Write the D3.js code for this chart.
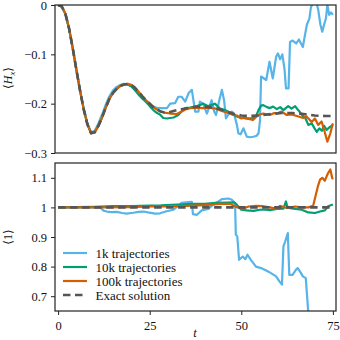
<!DOCTYPE html>
<head>
<meta charset="utf-8">
<style>
  body { margin: 0; background: #fff; }
  svg text { font-family: 'Liberation Serif', 'Times New Roman', Times, 'DejaVu Serif', 'Noto Serif', serif; fill: #111; }
</style>
</head>
<body>
  <svg width="340" height="340"></svg>

  <script src="https://cdn.jsdelivr.net/npm/d3@7"></script>
  <script>
  // ---- data ----
  const xTicks = [0, 25, 50, 75];
  const hxTicks = [0, -0.1, -0.2, -0.3];
  const normTicks = [0.7, 0.8, 0.9, 1, 1.1];
  const seriesNames = ['1k trajectories', '10k trajectories', '100k trajectories', 'Exact solution'];
  const seriesColors = ['#56B4E9', '#009E73', '#D55E00', '#555555'];

  // top panel: <H_x>
  const tExact = [0,1,2,3,4,5,6,7,8,9,10,11,12,13,14,15,16,17,18,19,20,21,22,23,24,25,26,27,28,29,30,32,34,36,38,40,42,44,46,48,50,52,55,58,61,64,67,70,73,75];
  const hxExact = [0,-0.003,-0.018,-0.048,-0.088,-0.132,-0.174,-0.212,-0.242,-0.26,-0.258,-0.245,-0.228,-0.208,-0.19,-0.178,-0.17,-0.164,-0.161,-0.16,-0.162,-0.168,-0.176,-0.185,-0.193,-0.2,-0.207,-0.212,-0.216,-0.218,-0.218,-0.214,-0.211,-0.208,-0.206,-0.206,-0.208,-0.211,-0.216,-0.221,-0.224,-0.225,-0.224,-0.221,-0.219,-0.219,-0.221,-0.224,-0.225,-0.225];

  const t1k = [0,1,2,3,4,5,6,7,8,9,10,11,12,13,14,15,16,17,18,19,20,21,22,23,24,25,26,27,27.8,29.7,30.6,31.9,32.8,33.7,34.7,35.6,36.5,37.4,38.3,38.7,39.6,40.6,41.3,41.9,42.6,43.1,44,44.7,45.3,45.8,46.4,47.4,48,48.8,49.2,49.8,50.6,51.5,52.4,53.3,54.2,54.7,55.1,55.4,56,56.8,57.7,58.6,59.5,60,60.6,61.2,61.8,62.2,62.9,63.3,64,65,65.7,66.3,66.8,67.4,67.9,68.6,69,69.6,70.4,71,71.6,72.1,72.6,73.1,73.5,74,74.5,75];
  const hx1k = [0,-0.003,-0.019,-0.048,-0.088,-0.131,-0.173,-0.21,-0.24,-0.258,-0.255,-0.24,-0.222,-0.202,-0.185,-0.173,-0.166,-0.162,-0.16,-0.161,-0.165,-0.171,-0.178,-0.188,-0.197,-0.203,-0.206,-0.209,-0.209,-0.209,-0.2,-0.199,-0.186,-0.186,-0.196,-0.179,-0.172,-0.216,-0.216,-0.196,-0.2,-0.22,-0.206,-0.193,-0.216,-0.223,-0.193,-0.172,-0.193,-0.23,-0.223,-0.216,-0.22,-0.243,-0.26,-0.262,-0.25,-0.267,-0.268,-0.267,-0.265,-0.26,-0.235,-0.145,-0.148,-0.152,-0.115,-0.149,-0.105,-0.098,-0.11,-0.1,-0.13,-0.169,-0.169,-0.075,-0.072,-0.078,-0.07,-0.078,-0.085,-0.06,-0.04,-0.027,-0.005,0.005,0.01,-0.01,-0.04,-0.054,-0.04,-0.027,0,-0.02,-0.015,-0.02];

  const t10k = [0,1,2,3,4,5,6,7,8,9,10,11,12,13,14,15,16,17,18,19,20,21,22,23,24,25,26,27,27.8,28.7,29.7,30.6,31.5,32.8,33.7,34.7,36,37.9,39.6,41,42.8,44.2,45.5,47.4,48.8,50,51.5,53,54,54.7,55.4,56,57,57.8,58.7,59.7,60.6,61.5,62.3,62.8,63.7,64.7,65.4,66,66.8,67.4,68.3,69.2,70,70.6,71.3,72,72.6,73.3,74.2,75];
  const hx10k = [0,-0.003,-0.018,-0.048,-0.088,-0.132,-0.174,-0.212,-0.242,-0.26,-0.258,-0.245,-0.228,-0.208,-0.19,-0.178,-0.17,-0.164,-0.161,-0.161,-0.165,-0.173,-0.182,-0.19,-0.196,-0.205,-0.213,-0.219,-0.222,-0.229,-0.23,-0.229,-0.228,-0.223,-0.216,-0.209,-0.208,-0.205,-0.2,-0.205,-0.2,-0.21,-0.213,-0.22,-0.226,-0.229,-0.23,-0.229,-0.226,-0.213,-0.204,-0.203,-0.207,-0.209,-0.206,-0.211,-0.207,-0.213,-0.208,-0.205,-0.21,-0.205,-0.212,-0.217,-0.225,-0.228,-0.243,-0.24,-0.25,-0.257,-0.25,-0.255,-0.245,-0.253,-0.247,-0.243];

  const t100k = [0,1,2,3,4,5,6,7,8,9,10,11,12,13,14,15,16,17,18,19,20,21,22,23,24,25,26,27,28,29,30.6,32.4,33.7,35,36,38,39.6,41,43,45.1,46.5,47.8,48.8,50,50.6,51.4,53.2,54.6,56,57,57.8,59,59.7,61,62.4,63.8,65.6,66.9,67.8,69.2,70.1,71,71.9,72.6,73.5,74.3,75];
  const hx100k = [0,-0.003,-0.018,-0.048,-0.088,-0.132,-0.174,-0.212,-0.242,-0.26,-0.258,-0.245,-0.228,-0.208,-0.19,-0.178,-0.17,-0.164,-0.161,-0.16,-0.162,-0.168,-0.176,-0.185,-0.193,-0.2,-0.207,-0.212,-0.216,-0.218,-0.22,-0.221,-0.216,-0.211,-0.209,-0.208,-0.209,-0.208,-0.21,-0.216,-0.219,-0.223,-0.224,-0.23,-0.228,-0.23,-0.233,-0.223,-0.22,-0.222,-0.223,-0.219,-0.22,-0.216,-0.223,-0.222,-0.226,-0.229,-0.226,-0.237,-0.23,-0.243,-0.236,-0.253,-0.277,-0.26,-0.24];

  // bottom panel: <1>
  const tNormExact = [0, 75];
  const normExact = [1, 1];

  const tN1k = [0,5,10,11.5,12.4,13.3,14.5,16,17.5,18.7,20.5,22,23.3,24.5,26.5,27.8,29.6,31.5,32.8,33.7,35,36.5,36.8,37.9,39.2,41,42.4,43.8,44.7,46.5,47.4,48.3,48.5,48.9,49.4,50.4,51.1,51.7,52.6,54,55.4,57.2,58.1,59.5,60.4,61.1,61.5,62,62.7,63.1,64,64.9,65.4,66.3,66.8,67.6,68.3,68.6];
  const norm1k = [1,1,1,1,0.989,0.986,0.984,0.985,0.981,0.979,0.982,0.985,0.986,0.983,0.979,0.98,0.987,0.992,1.006,1.015,1.017,1.019,0.977,0.975,0.99,0.995,1.01,1.02,1.028,1.03,1.026,1.015,0.908,0.902,0.823,0.834,0.825,0.84,0.823,0.8,0.795,0.784,0.778,0.767,0.75,0.739,0.868,0.885,0.913,0.772,0.772,0.789,0.795,0.778,0.767,0.761,0.643,0.6];

  const tN10k = [0,5,10,15,20,25,28,31,34,37,40,43,46,48,48.7,50,51.5,53.4,55,56,57.8,59.7,61.5,62.2,62.5,63,64.7,66.5,68.3,70.1,71.5,72.8,73.7,74.6,75];
  const norm10k = [1,1.001,1.002,1.004,1.004,1.006,1.007,1.009,1.01,1.012,1.012,1.015,1.016,1.017,1.01,0.992,0.99,0.988,0.992,0.993,0.991,0.995,0.996,1.02,1.005,0.998,0.995,0.992,0.983,0.981,0.986,0.99,1.004,1.008,1.01];

  const tN100k = [0,10,20,25,30,35,40,44,47,48.5,50.6,52,54,56,57.8,59.7,60.5,62.4,64.7,66.5,68.3,69.6,70.2,70.9,71.5,72.1,72.8,73.3,73.7,74.3,74.8,75];
  const norm100k = [1,1,1.001,1.003,1.003,1.005,1.008,1.012,1.012,1.002,0.996,1.003,1.005,1.004,1,0.995,1.005,0.998,1.003,1,1,1.005,1.035,1.071,1.094,1.1,1.09,1.105,1.116,1.128,1.1,1.095];

  // ---- layout ----
  const svg = d3.select('svg');
  const serif = "'Liberation Serif', 'Times New Roman', Times, 'DejaVu Serif', 'Noto Serif', serif";
  const left = 55, right = 336;
  const x = d3.scaleLinear().domain([-0.85, 75.85]).range([left, right]);
  const yTop = d3.scaleLinear().domain([-0.3, 0]).range([153, 5]);
  const yBot = d3.scaleLinear().domain([0.65, 1.15]).range([311, 163]);

  const zip = (ts, vs) => ts.slice(0, Math.min(ts.length, vs.length)).map((t, i) => [t, vs[i]]);
  const fmt = d => d === 0 ? '0' : (d === 1 ? '1' : d3.format('.1f')(d));

  const drawPanel = (id, y, series, ticks, showX) => {
    const [y0, y1] = y.range();
    svg.append('clipPath').attr('id', id)
      .append('rect')
      .attr('x', left).attr('y', y1)
      .attr('width', right - left).attr('height', y0 - y1);

    const g = svg.append('g');
    const plot = g.append('g').attr('clip-path', `url(#${id})`);
    const line = d3.line().x(d => x(d[0])).y(d => y(d[1]));

    series.forEach((s, i) => {
      plot.append('path')
        .datum(s)
        .attr('fill', 'none')
        .attr('stroke', seriesColors[i])
        .attr('stroke-width', i === 3 ? 2.6 : 2.2)
        .attr('stroke-dasharray', i === 3 ? '7.5,4.5' : null)
        .attr('stroke-linejoin', 'round')
        .attr('d', line);
    });

    // y axis
    const ya = g.append('g')
      .attr('transform', `translate(${left},0)`)
      .call(d3.axisLeft(y).tickValues(ticks).tickSize(4).tickPadding(4).tickFormat(fmt));
    ya.attr('font-family', serif);
    ya.select('.domain').remove();
    ya.selectAll('line').attr('stroke', '#222').attr('stroke-width', 1);
    ya.selectAll('text').attr('font-size', 12.5).attr('fill', '#111');

    if (showX) {
      const xa = g.append('g')
        .attr('transform', `translate(0,${y0})`)
        .call(d3.axisBottom(x).tickValues(xTicks).tickSize(4).tickPadding(6.5));
      xa.attr('font-family', serif);
      xa.select('.domain').remove();
      xa.selectAll('line').attr('stroke', '#222').attr('stroke-width', 1);
      xa.selectAll('text').attr('font-size', 12.5).attr('fill', '#111');
    }

    // frame
    g.append('rect')
      .attr('x', left).attr('y', y1)
      .attr('width', right - left).attr('height', y0 - y1)
      .attr('fill', 'none').attr('stroke', '#222').attr('stroke-width', 1.2);
    return g;
  };

  drawPanel('clipTop', yTop, [
    zip(t1k, hx1k), zip(t10k, hx10k), zip(t100k, hx100k), zip(tExact, hxExact)
  ], hxTicks, false);

  drawPanel('clipBot', yBot, [
    zip(tN1k, norm1k), zip(tN10k, norm10k), zip(tN100k, norm100k), zip(tNormExact, normExact)
  ], normTicks, true);

  // axis labels
  const hxLabel = svg.append('text')
    .attr('transform', 'translate(12,78) rotate(-90)')
    .attr('text-anchor', 'middle')
    .attr('font-family', serif)
    .attr('font-size', 12);
  hxLabel.append('tspan').text('⟨');
  hxLabel.append('tspan').attr('font-style', 'italic').text('H');
  hxLabel.append('tspan').attr('font-style', 'italic').attr('font-size', 8.5).attr('dy', 2.5).text('x');
  hxLabel.append('tspan').attr('dy', -2.5).text('⟩');

  svg.append('text')
    .attr('transform', 'translate(12,237) rotate(-90)')
    .attr('text-anchor', 'middle')
    .attr('font-family', serif)
    .attr('font-size', 12)
    .text('⟨1⟩');

  svg.append('text')
    .attr('x', 195).attr('y', 337)
    .attr('text-anchor', 'middle')
    .attr('font-family', serif)
    .attr('font-size', 12.5)
    .attr('font-style', 'italic')
    .text('t');

  // legend
  const legend = svg.append('g').attr('font-family', serif);
  seriesNames.forEach((name, i) => {
    const ly = 253 + i * 14;
    legend.append('line')
      .attr('x1', 63).attr('x2', 87)
      .attr('y1', ly).attr('y2', ly)
      .attr('stroke', seriesColors[i])
      .attr('stroke-width', i === 3 ? 2.6 : 2.2)
      .attr('stroke-dasharray', i === 3 ? '7.5,4.5' : null);
    legend.append('text')
      .attr('x', 95.5).attr('y', ly)
      .attr('dy', '0.35em')
      .attr('font-size', 13)
      .text(name);
  });
  </script>
</body>
</html>
